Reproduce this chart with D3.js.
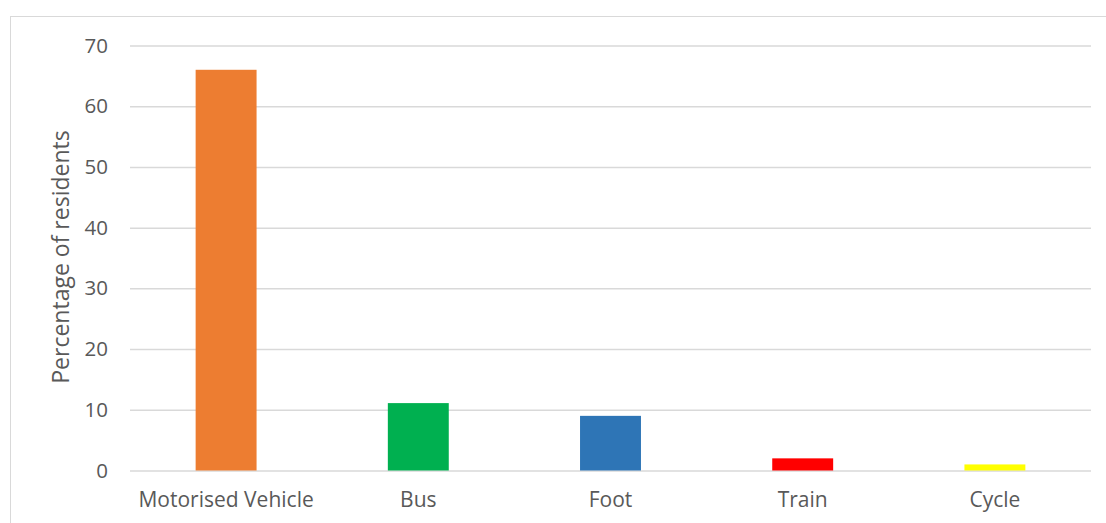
<!DOCTYPE html>
<html><head><meta charset="utf-8">
<script src="https://cdn.jsdelivr.net/npm/d3@7"></script>
<style>body{margin:0;background:#fff}svg{display:block}</style>
</head><body>
<script>
const categories = ["Motorised Vehicle","Bus","Foot","Train","Cycle"];
const values = [66, 11.1, 9, 2, 1];
const colors = ["#ED7D31","#00B050","#2E75B6","#FF0000","#FFFF00"];
const yTicks = [0,10,20,30,40,50,60,70];
const yTitle = "Percentage of residents";

const W = 1106, H = 523;
const m = {left:130, right:15, top:45.5, bottom:52.5};
const svg = d3.select("body").append("svg").attr("width",W).attr("height",H);
const font = "Open Sans, sans-serif";

svg.append("rect").attr("x",10.5).attr("y",16.5).attr("width",W).attr("height",H)
  .attr("fill","none").attr("stroke","#d9d9d9").attr("stroke-width",1);

const x = d3.scaleBand().domain(categories).range([m.left, W-m.right]).padding(0);
const y = d3.scaleLinear().domain([0,70]).range([H-m.bottom, m.top]);

const yAxis = d3.axisLeft(y).tickValues(yTicks).tickSize(-(W-m.right-m.left)).tickPadding(22);
const gy = svg.append("g").attr("transform",`translate(${m.left},0)`).call(yAxis);
gy.select(".domain").remove();
gy.selectAll(".tick line").attr("stroke","#d9d9d9").attr("stroke-width",1.5);
gy.selectAll(".tick text").attr("fill","#595959").style("font-family",font).style("font-size","20.5px");

const bw = x.bandwidth()*0.317;
svg.append("g").selectAll("rect").data(categories).join("rect")
  .attr("x",d=>x(d)+x.bandwidth()/2-bw/2)
  .attr("width",bw)
  .attr("y",(d,i)=>y(values[i]))
  .attr("height",(d,i)=>y(0)-y(values[i]))
  .attr("fill",(d,i)=>colors[i]);

const xAxis = d3.axisBottom(x).tickSize(0).tickPadding(22);
const gx = svg.append("g").attr("transform",`translate(0,${y(0)})`).call(xAxis);
gx.select(".domain").remove();
gx.selectAll(".tick text").attr("fill","#595959").style("font-family",font).style("font-size","21px");

svg.append("text").attr("transform",`translate(69,257) rotate(-90)`)
  .attr("text-anchor","middle").attr("fill","#595959")
  .style("font-family",font).style("font-size","23px").text(yTitle);
</script>
</body></html>
